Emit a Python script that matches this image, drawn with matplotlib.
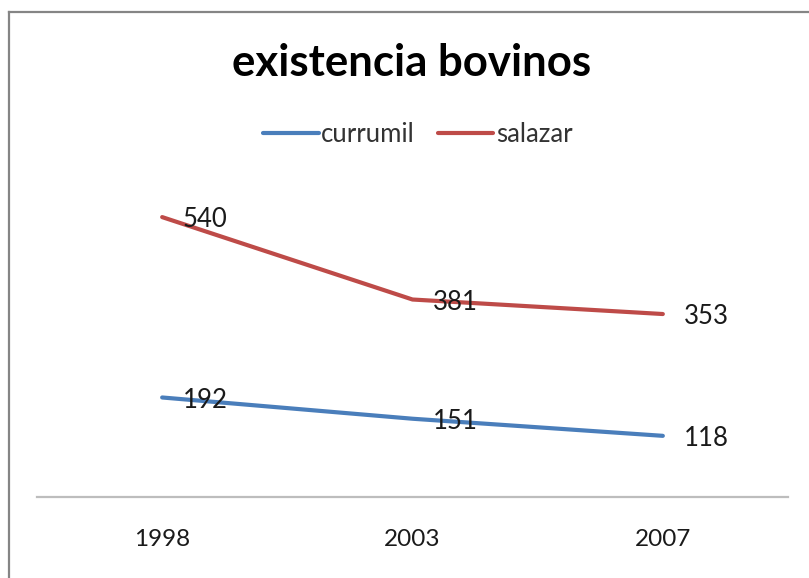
import matplotlib

matplotlib.use("Agg")
import matplotlib.pyplot as plt
from matplotlib.lines import Line2D

years = ["1998", "2003", "2007"]
currumil = [192, 151, 118]
salazar = [540, 381, 353]

plt.rcParams["font.family"] = ["Lato", "DejaVu Sans"]

fig = plt.figure(figsize=(8.09, 5.78), dpi=100)
ax = fig.add_axes([37 / 809, 81 / 578, 751 / 809, 311 / 578])

x = list(range(len(years)))
ax.plot(x, currumil, color="#4A7EBB", lw=3.0, label="currumil", solid_capstyle="round")
ax.plot(x, salazar, color="#BE4B48", lw=3.0, label="salazar", solid_capstyle="round")

for series in (currumil, salazar):
    for xi, v in zip(x, series):
        ax.annotate(str(v), (xi, v), xytext=(15, -2), textcoords="offset points",
                    ha="left", va="center", fontsize=18.5, color="#1a1a1a")

ax.set_xlim(-0.5, len(years) - 0.5)
ax.set_ylim(0, 600)
ax.set_xticks(x)
ax.set_xticklabels(years, fontsize=17.5, color="#1a1a1a")
ax.tick_params(axis="x", length=0, pad=23)
ax.set_yticks([])
for side in ("top", "right", "left"):
    ax.spines[side].set_visible(False)
ax.spines["bottom"].set_color("#BDBDBD")
ax.spines["bottom"].set_linewidth(1.6)

fig.text(412 / 809, 1 - 63 / 578, "existencia bovinos", ha="center", va="center",
         fontsize=31.5, fontweight="bold", color="black")

fig.legend(loc="center", bbox_to_anchor=(418 / 809, 1 - 134 / 578), ncol=2,
           frameon=False, fontsize=18.5, handlelength=2.15, handletextpad=0.1,
           columnspacing=0.9, labelcolor="#333333")

# chart border (left and top edges)
fig.add_artist(Line2D([9 / 809, 9 / 809], [0, 1 - 12 / 578], transform=fig.transFigure,
                      color="#858585", lw=1.6))
fig.add_artist(Line2D([9 / 809, 1], [1 - 12 / 578, 1 - 12 / 578], transform=fig.transFigure,
                      color="#858585", lw=1.6))

fig.savefig("out.png", dpi=100)
plt.close(fig)
